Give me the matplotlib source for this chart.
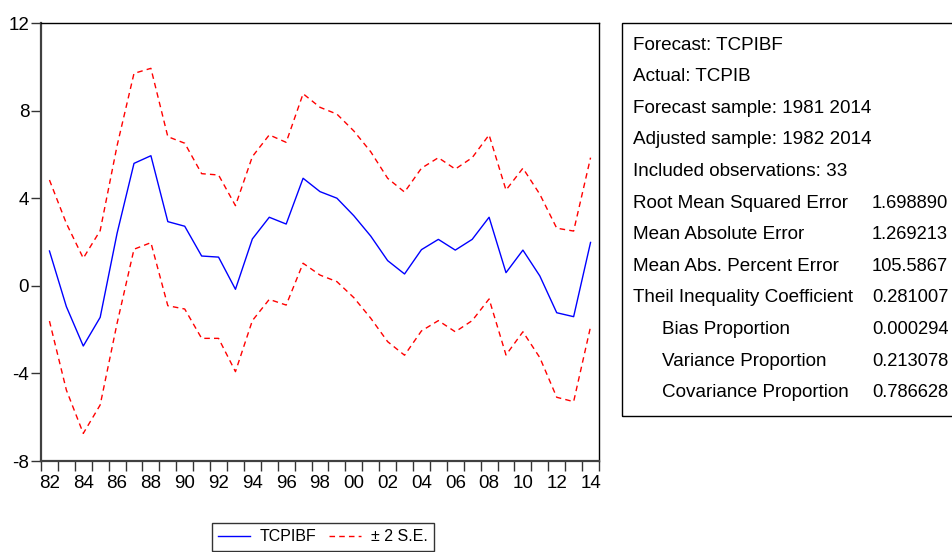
import matplotlib
matplotlib.use("Agg")
import matplotlib.pyplot as plt
from matplotlib import font_manager
from matplotlib.patches import Rectangle

years = list(range(1982, 2015))

# forecast and +/- 2 standard error bands
forecast = [1.59, -0.95, -2.75, -1.44, 2.40, 5.59, 5.94, 2.93, 2.72, 1.36, 1.31,
            -0.16, 2.14, 3.13, 2.82, 4.91, 4.30, 4.00, 3.20, 2.27, 1.15, 0.54,
            1.65, 2.12, 1.63, 2.12, 3.13, 0.60, 1.63, 0.45, -1.23, -1.41, 1.98]
upper = [4.83, 2.85, 1.26, 2.52, 6.40, 9.70, 9.93, 6.81, 6.51, 5.12, 5.06,
         3.66, 5.90, 6.89, 6.55, 8.77, 8.15, 7.84, 7.07, 6.12, 4.91, 4.28,
         5.37, 5.85, 5.33, 5.85, 6.89, 4.37, 5.37, 4.18, 2.63, 2.50, 5.85]
lower = [-1.61, -4.76, -6.74, -5.44, -1.71, 1.67, 1.97, -0.91, -1.06, -2.40, -2.40,
         -3.92, -1.59, -0.62, -0.88, 1.03, 0.49, 0.19, -0.54, -1.48, -2.55, -3.17,
         -2.06, -1.59, -2.10, -1.59, -0.60, -3.16, -2.10, -3.28, -5.09, -5.29, -1.87]

y_ticks = [-8, -4, 0, 4, 8, 12]

stat_labels = ["Forecast: TCPIBF", "Actual: TCPIB", "Forecast sample: 1981 2014",
               "Adjusted sample: 1982 2014", "Included observations: 33",
               "Root Mean Squared Error", "Mean Absolute Error",
               "Mean Abs. Percent Error", "Theil Inequality Coefficient",
               "Bias Proportion", "Variance Proportion", "Covariance Proportion"]
stat_values = ["", "", "", "", "", "1.698890", "1.269213", "105.5867",
               "0.281007", "0.000294", "0.213078", "0.786628"]
stat_indent = [False] * 9 + [True] * 3

names = {f.name for f in font_manager.fontManager.ttflist}
FONT = "Liberation Sans Narrow" if "Liberation Sans Narrow" in names else "Liberation Sans"
plt.rcParams["font.family"] = [FONT, "DejaVu Sans"]

W, H = 952, 552
fig = plt.figure(figsize=(W / 100, H / 100), dpi=100, facecolor="white")


def fx(px):
    return px / W


def fy(py):
    return 1 - py / H


ax = fig.add_axes([fx(41), fy(461), fx(599) - fx(41), fy(23) - fy(461)])
ax.plot(years, forecast, color="#0000ff", lw=1.0, label="TCPIBF")
ax.plot(years, upper, color="#ff0000", lw=1.0, ls=(0, (4, 3)), label="± 2 S.E.")
ax.plot(years, lower, color="#ff0000", lw=1.0, ls=(0, (4, 3)))

ax.set_xlim(1981.5, 2014.5)
ax.set_ylim(-8, 12)

# year boundaries get the tick marks, even years get the labels
ax.set_xticks([y - 0.5 for y in years] + [years[-1] + 0.5])
ax.set_xticklabels([])
ax.set_xticks([y for y in years if y % 2 == 0], minor=True)
ax.set_xticklabels([f"{y % 100:02d}" for y in years if y % 2 == 0], minor=True)
ax.tick_params(axis="x", which="major", direction="out", length=7, width=1, color="#333333")
ax.tick_params(axis="x", which="minor", length=0, pad=10, labelsize=13.5)

ax.set_yticks(y_ticks)
ax.set_yticklabels([str(v) for v in y_ticks])
ax.tick_params(axis="y", direction="out", length=7, width=1, color="#333333", labelsize=13.5, pad=1.5)

for side in ("left", "bottom"):
    ax.spines[side].set_color("#404040")
    ax.spines[side].set_linewidth(1.6)
for side in ("top", "right"):
    ax.spines[side].set_color("black")
    ax.spines[side].set_linewidth(1.0)

leg = fig.legend(loc="upper left", bbox_to_anchor=(fx(212), fy(523)), ncol=2,
                 frameon=True, fancybox=False, edgecolor="black", fontsize=11.5,
                 handlelength=2.0, columnspacing=0.8, borderpad=0.4,
                 handletextpad=0.6, borderaxespad=0)
leg.get_frame().set_linewidth(1.0)

# statistics box on the right
fig.patches.append(Rectangle((fx(622), fy(416)), fx(960) - fx(622), fy(23) - fy(416),
                             transform=fig.transFigure, fill=False, edgecolor="black", lw=1.0))
y0, dy = 45, 31.6
for i, (lab, val, ind) in enumerate(zip(stat_labels, stat_values, stat_indent)):
    y = y0 + i * dy
    fig.text(fx(662 if ind else 633), fy(y), lab, fontsize=13.6, va="center", ha="left")
    if val:
        fig.text(fx(872), fy(y), val, fontsize=13.2, va="center", ha="left")

fig.savefig("out.png", dpi=100)
